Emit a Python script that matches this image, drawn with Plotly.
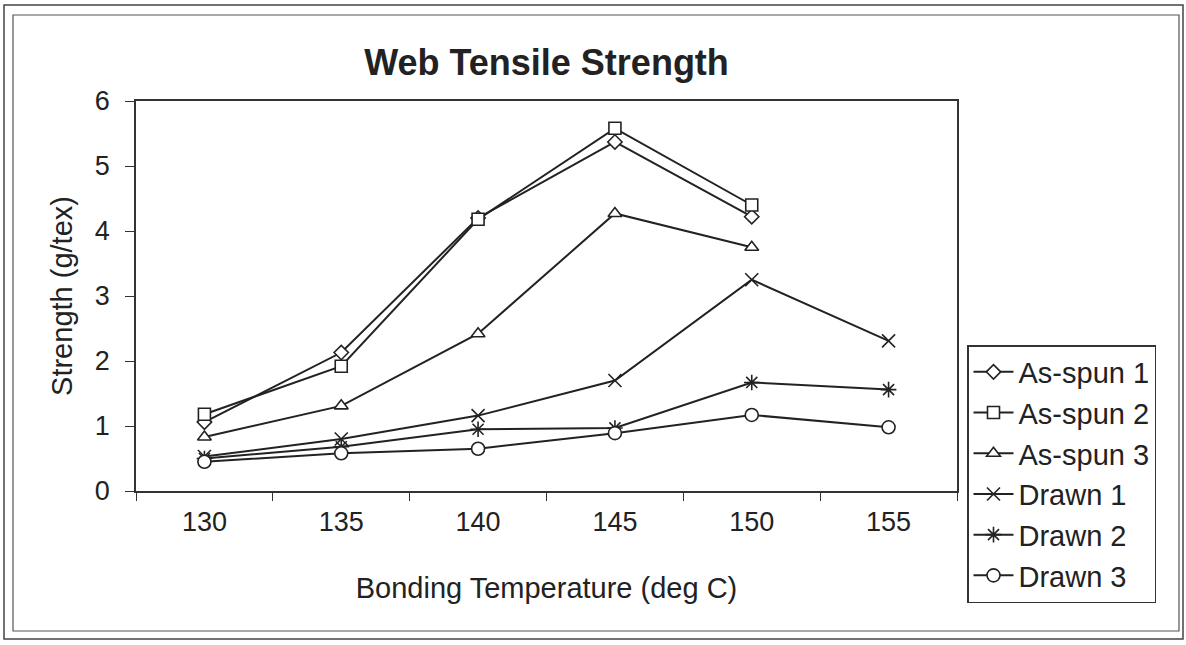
import plotly.graph_objects as go

# ---- data ----
temps = ["130", "135", "140", "145", "150", "155"]
as_spun_1 = [1.06, 2.13, 4.20, 5.37, 4.22, None]
as_spun_2 = [1.18, 1.92, 4.18, 5.58, 4.40, None]
as_spun_3 = [0.83, 1.31, 2.42, 4.27, 3.75, None]
drawn_1 = [0.53, 0.80, 1.16, 1.70, 3.25, 2.31]
drawn_2 = [0.50, 0.68, 0.95, 0.97, 1.67, 1.56]
drawn_3 = [0.45, 0.58, 0.65, 0.89, 1.17, 0.98]

series_names = ["As-spun 1", "As-spun 2", "As-spun 3", "Drawn 1", "Drawn 2", "Drawn 3"]
series_values = [as_spun_1, as_spun_2, as_spun_3, drawn_1, drawn_2, drawn_3]
series_symbols = ["diamond", "square", "triangle-up", "x-thin-open", "asterisk-open", "circle"]
series_sizes = [11, 12, 12, 13, 13, 13]

W, H = 1186, 645
L, R, T, B = 136, 957, 101, 491  # plot area in pixels

INK = "#222222"
FONT = "Liberation Sans, Arial, sans-serif"

fig = go.Figure()
for i, (name, vals, sym, sz) in enumerate(zip(series_names, series_values, series_symbols, series_sizes)):
    fill = INK if sym.endswith("-open") else "white"
    fig.add_trace(go.Scatter(
        x=temps, y=vals, name=name, mode="lines+markers",
        legendgroup=f"g{i}",
        line=dict(color=INK, width=2),
        marker=dict(symbol=sym, size=sz, color=fill,
                    line=dict(color=INK, width=1.6)),
        connectgaps=False,
    ))

def px(x):
    return (x - L) / (R - L)

def py(y):
    return (B - y) / (B - T)

shapes = [
    dict(type="rect", xref="paper", yref="paper",
         x0=px(4), x1=px(1183), y0=py(5), y1=py(639),
         line=dict(color="#444444", width=1.5), layer="below"),
    dict(type="rect", xref="paper", yref="paper",
         x0=px(13), x1=px(1179), y0=py(15), y1=py(631),
         line=dict(color="#555555", width=1.2), layer="below"),
]

fig.update_layout(
    width=W, height=H,
    margin=dict(l=L, r=W - R, t=T, b=H - B, autoexpand=False),
    paper_bgcolor="white", plot_bgcolor="white",
    font=dict(family=FONT, color=INK, size=26),
    title=dict(text="<b>Web Tensile Strength</b>", x=0.5, xref="paper",
               y=1 - 62 / H, yanchor="middle",
               font=dict(size=36, family=FONT, color=INK)),
    xaxis=dict(
        type="category", tickson="boundaries", range=[-0.5, 5.5],
        autorange=False,
        showline=True, linecolor="#333333", linewidth=1.5, mirror=True,
        ticks="outside", ticklen=8, tickcolor="#333333", tickwidth=1.2,
        showgrid=False, zeroline=False,
        tickfont=dict(size=27), ticklabelstandoff=6,
        title=dict(text="Bonding Temperature (deg C)", font=dict(size=29), standoff=42),
    ),
    yaxis=dict(
        range=[0, 6], dtick=1, tick0=0, autorange=False,
        showline=True, linecolor="#333333", linewidth=1.5, mirror=True,
        ticks="outside", ticklen=9, tickcolor="#333333", tickwidth=1.2,
        showgrid=False, zeroline=False,
        tickfont=dict(size=27), ticklabelstandoff=10,
        title=dict(text="Strength (g/tex)", font=dict(size=29), standoff=14),
    ),
    legend=dict(
        x=px(967), y=py(345), xref="paper", yref="paper",
        xanchor="left", yanchor="top",
        bordercolor="#333333", borderwidth=1.5, bgcolor="white",
        font=dict(size=29, family=FONT, color=INK),
        traceorder="grouped", tracegroupgap=0,
        itemwidth=40,
    ),
    shapes=shapes,
    showlegend=True,
)

fig.write_html("out.html")
